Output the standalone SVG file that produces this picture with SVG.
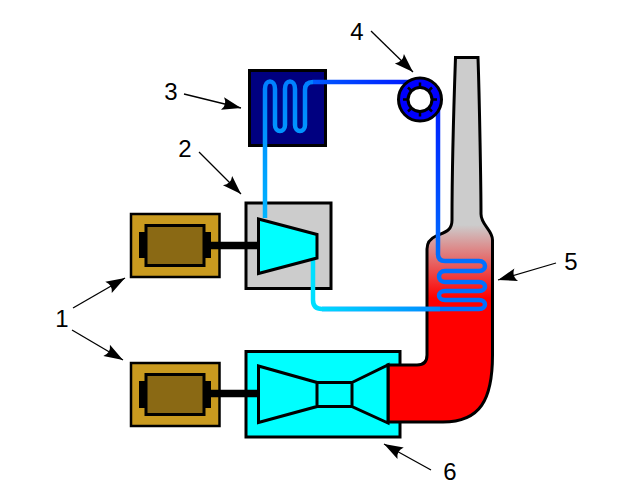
<svg xmlns="http://www.w3.org/2000/svg" width="624" height="495" viewBox="0 0 624 495">
<style>
.k{stroke:#000;stroke-width:3;stroke-linejoin:miter}
.p{fill:none;stroke-width:4.500;stroke-linecap:butt;stroke-linejoin:round}
.gold{fill:#c99a1f}.brown{fill:#8a6914}
.lead{fill:none;stroke:#000;stroke-width:1.300;marker-end:url(#ah)}
text{font-family:"Liberation Sans",Arial,sans-serif;font-size:24px;fill:#000}
</style>
<defs>
<marker id="ah" markerUnits="userSpaceOnUse" markerWidth="24" markerHeight="16" viewBox="-22 -8 24 16" refX="0" refY="0" orient="auto"><path d="M0 0L-19 -6.500Q-14 0 -19 6.500Z" fill="#000"/></marker>
<linearGradient id="boil" gradientUnits="userSpaceOnUse" x1="0" y1="225" x2="0" y2="298"><stop offset="0" stop-color="#ccc"/><stop offset="1" stop-color="#f00"/></linearGradient>
<linearGradient id="cold" gradientUnits="userSpaceOnUse" x1="0" y1="218" x2="0" y2="82"><stop offset="0" stop-color="#00b4ff"/><stop offset="1" stop-color="#0080ff"/></linearGradient>
<linearGradient id="top" gradientUnits="userSpaceOnUse" x1="305" y1="0" x2="400" y2="0"><stop offset="0" stop-color="#0060ff"/><stop offset="1" stop-color="#0020ff"/></linearGradient>
<linearGradient id="down" gradientUnits="userSpaceOnUse" x1="0" y1="110" x2="0" y2="260"><stop offset="0" stop-color="#0020ff"/><stop offset="1" stop-color="#0070ff"/></linearGradient>
<linearGradient id="heat" gradientUnits="userSpaceOnUse" x1="312" y1="0" x2="440" y2="0"><stop offset="0" stop-color="#00e0ff"/><stop offset="1" stop-color="#0088ff"/></linearGradient>
</defs>
<g id="node-condenser"><rect class="k" x="249.500" y="70.500" width="76" height="75" fill="#000080"/></g>
<g id="node-compressor-box"><rect class="k" x="246" y="203" width="85" height="85.500" fill="#ccc"/></g>
<g id="node-turbine-box"><rect class="k" x="246" y="351.500" width="154" height="85.500" fill="#0ff"/></g>
<g id="node-boiler"><path class="k" fill="url(#boil)" d="M388 365H417Q427 365 427 355V249Q427 240 436 236C445 232 452 231 452 220C452 190 454 100 455.500 57.500H478C479.500 100 481 190 481 214C481 225 492.500 230 492.500 240V355C492.500 400 480 422 443 422H388Z"/></g>
<g id="node-generator-1">
<rect x="131" y="214" width="88.500" height="63" class="gold" stroke="#000" stroke-width="2.500"/>
<rect x="139" y="232" width="72" height="26"/>
<rect x="146" y="225.500" width="58" height="40" class="brown" stroke="#000" stroke-width="3"/>
</g>
<g id="node-generator-2">
<rect x="131" y="363" width="88.500" height="63" class="gold" stroke="#000" stroke-width="2.500"/>
<rect x="139" y="381" width="72" height="27"/>
<rect x="146" y="374.500" width="58" height="40" class="brown" stroke="#000" stroke-width="3"/>
</g>
<g id="connectors">
<path class="p" stroke="url(#cold)" d="M265 218V89C265 79 275 79 275 89V125C275 133 285 133 285 125V89C285 79 295 79 295 89V125C295 133 305 133 305 125V90Q305 82 313 82"/>
<path class="p" stroke="url(#top)" d="M313 82H420"/>
<path class="p" stroke="url(#down)" d="M438 105V254Q438 261 445 261H479C487 261 487 271 479 271H445C437 271 437 282 445 282H479C487 282 487 291 479 291H445C437 291 437 300 445 300H479C487 300 487 309 479 309H322"/>
<path class="p" stroke="url(#heat)" d="M313 255V300Q313 309 322 309H440"/>
<path fill="none" stroke="#000" stroke-width="7.500" d="M211 245.500H259M211 393.500H259"/>
</g>
<g id="node-pump">
<circle class="k" cx="420" cy="99.500" r="21.500" fill="#00f"/>
<path stroke="#000" stroke-width="2.500" d="M420 82.500V92M420 107V116.500M403 99.500H412.500M427.500 99.500H437M408 87.500L414.700 94.200M425.300 104.800L432 111.500M432 87.500L425.300 94.200M414.700 104.800L408 111.500"/>
<circle cx="420" cy="99.500" r="12" fill="#fff" stroke="#000" stroke-width="3"/>
</g>
<g id="node-compressor"><path class="k" fill="#0ff" d="M258.500 219L317 234.500V258L258.500 273.500Z"/></g>
<g id="node-turbine"><path class="k" fill="#0ff" d="M258.500 366L317 382.500V406.500L258.500 422.500ZM317 382.500H352V406.500H317ZM352 382.500L388 365V423L352 406.500Z"/></g>
<g id="labels">
<path class="lead" d="M73 308L125 278"/>
<path class="lead" d="M72 330L123 360"/>
<path class="lead" d="M199 152L241 194"/>
<path class="lead" d="M184 94L241 108"/>
<path class="lead" d="M371 31L413 72"/>
<path class="lead" d="M556 263L498 280"/>
<path class="lead" d="M431 470L384 444"/>
<text x="62" y="327" text-anchor="middle">1</text>
<text x="185" y="157" text-anchor="middle">2</text>
<text x="171" y="100" text-anchor="middle">3</text>
<text x="357" y="40" text-anchor="middle">4</text>
<text x="571" y="270" text-anchor="middle">5</text>
<text x="450" y="480" text-anchor="middle">6</text>
</g>
</svg>
